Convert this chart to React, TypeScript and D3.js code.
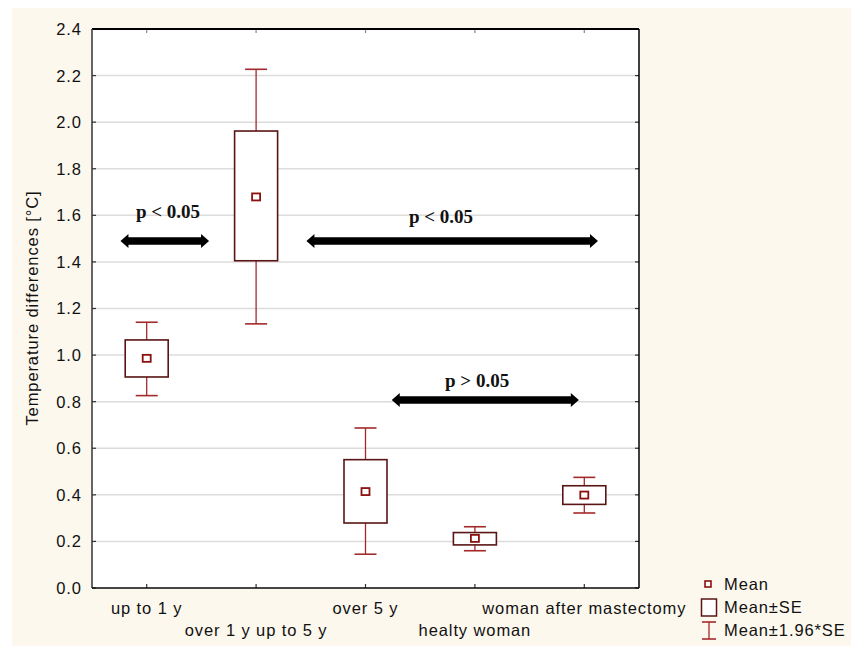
import React from "react";
import * as d3 from "d3";

const categories = ["up to 1 y", "over 1 y up to 5 y", "over 5 y", "healty woman", "woman after mastectomy"];
const means = [0.986, 1.679, 0.414, 0.213, 0.399];
const seLow = [0.906, 1.405, 0.279, 0.185, 0.359];
const seHigh = [1.065, 1.962, 0.551, 0.238, 0.439];
const ciLow = [0.826, 1.134, 0.145, 0.160, 0.322];
const ciHigh = [1.141, 2.227, 0.687, 0.263, 0.475];
const yTicks = [0, 0.2, 0.4, 0.6, 0.8, 1.0, 1.2, 1.4, 1.6, 1.8, 2.0, 2.2, 2.4];

// significance annotations: positions in category-index units and value units
const arrowFrom = [-0.24, 1.46, 2.24];
const arrowTo = [0.57, 4.125, 3.95];
const arrowValue = [1.49, 1.49, 0.807];
const annoText = ["p < 0.05", "p < 0.05", "p > 0.05"];
const annoTextPos = [0.195, 2.69, 3.02];
const annoTextValue = [1.589, 1.567, 0.863];

const legendLabels = ["Mean", "Mean±SE", "Mean±1.96*SE"];

const W = 851, H = 646;
const L = 92, R = 639, T = 29, B = 588;

const MEAN_C = "#8b1010";
const BOX_C = "#5a1414";
const WH_C = "#a32a2a";
const SANS = "'Liberation Sans', Arial, sans-serif";
const SERIF = "'Liberation Serif', 'Times New Roman', serif";
const FS = 16.5;
const LS = 0.9;

export default function App() {
  const x = d3.scalePoint<string>().domain(categories).range([L, R]).padding(0.5);
  const step = x.step();
  const xi = (i: number) => (x(categories[0]) as number) + i * step;
  const y = d3.scaleLinear().domain([0, 2.4]).range([B, T]);
  const boxW = 43;
  const capW = 22;

  const arrowPath = (x1: number, x2: number, yc: number) => {
    const bh = 3.8, hh = 7, hl = 8;
    return `M${x1},${yc} L${x1 + hl},${yc - hh} L${x1 + hl},${yc - bh} L${x2 - hl},${yc - bh} L${x2 - hl},${yc - hh} L${x2},${yc} L${x2 - hl},${yc + hh} L${x2 - hl},${yc + bh} L${x1 + hl},${yc + bh} L${x1 + hl},${yc + hh} Z`;
  };

  return (
    <svg width={W} height={H} style={{ position: "absolute", left: 0, top: 0 }}>
      <rect x={12} y={8} width={W - 12} height={H - 8} fill="#fdf8ee" />
      <rect x={L} y={T} width={R - L} height={B - T} fill="#ffffff" />
      {yTicks.map((t) => (
        <line key={"g" + t} x1={L} x2={R} y1={y(t)} y2={y(t)} stroke="#dcdcdc" strokeWidth={1.5} />
      ))}
      {/* ticks */}
      {yTicks.map((t) => (
        <g key={"t" + t}>
          <line x1={L} x2={L + 4} y1={y(t)} y2={y(t)} stroke="#333" strokeWidth={1.2} />
          <line x1={R - 4} x2={R} y1={y(t)} y2={y(t)} stroke="#333" strokeWidth={1.2} />
          <text x={81 + LS} y={y(t)} dy="0.36em" textAnchor="end" fontFamily={SANS} fontSize={FS} letterSpacing={LS} fill="#111">
            {d3.format(".1f")(t)}
          </text>
        </g>
      ))}
      {categories.map((c, i) => (
        <g key={"xt" + c}>
          <line x1={x(c)} x2={x(c)} y1={B} y2={B - 4} stroke="#333" strokeWidth={1.2} />
          <line x1={x(c)} x2={x(c)} y1={T} y2={T + 4} stroke="#888" strokeWidth={1.2} />
          <text x={x(c)} y={i % 2 === 0 ? 614 : 636} textAnchor="middle" fontFamily={SANS} fontSize={FS} letterSpacing={LS} fill="#111">
            {c}
          </text>
        </g>
      ))}
      {/* frame */}
      <line x1={L} x2={R} y1={T} y2={T} stroke="#000" strokeWidth={2} />
      <line x1={R} x2={R} y1={T} y2={B} stroke="#000" strokeWidth={1.5} />
      <line x1={L} x2={L} y1={T} y2={B} stroke="#333" strokeWidth={1.5} />
      <line x1={L} x2={R} y1={B} y2={B} stroke="#111" strokeWidth={1.5} />

      {/* whiskers and boxes */}
      {categories.map((c, i) => {
        const cx = x(c) as number;
        return (
          <g key={"b" + c}>
            <line x1={cx} x2={cx} y1={y(ciHigh[i])} y2={y(seHigh[i])} stroke={WH_C} strokeWidth={1.3} />
            <line x1={cx} x2={cx} y1={y(seLow[i])} y2={y(ciLow[i])} stroke={WH_C} strokeWidth={1.3} />
            <line x1={cx - capW / 2} x2={cx + capW / 2} y1={y(ciHigh[i])} y2={y(ciHigh[i])} stroke={WH_C} strokeWidth={1.6} />
            <line x1={cx - capW / 2} x2={cx + capW / 2} y1={y(ciLow[i])} y2={y(ciLow[i])} stroke={WH_C} strokeWidth={1.6} />
            <rect x={cx - boxW / 2} y={y(seHigh[i])} width={boxW} height={y(seLow[i]) - y(seHigh[i])} fill="#fff" stroke={BOX_C} strokeWidth={1.6} />
            <rect x={cx - 4} y={y(means[i]) - 3.5} width={8} height={7} fill="#fff" stroke={MEAN_C} strokeWidth={1.8} />
          </g>
        );
      })}

      {/* annotations */}
      {arrowFrom.map((a, i) => (
        <g key={"a" + i}>
          <path d={arrowPath(xi(a), xi(arrowTo[i]), y(arrowValue[i]))} fill="#000" />
          <text x={xi(annoTextPos[i])} y={y(annoTextValue[i])} textAnchor="middle" fontFamily={SERIF} fontWeight="bold" fontSize={19} fill="#111">
            {annoText[i]}
          </text>
        </g>
      ))}

      {/* y title */}
      <text transform={`translate(38,308) rotate(-90)`} textAnchor="middle" fontFamily={SANS} fontSize={FS} letterSpacing={LS} fill="#111">
        Temperature differences [°C]
      </text>

      {/* legend */}
      <g>
        <rect x={705} y={581} width={6} height={6} fill="#fff" stroke={MEAN_C} strokeWidth={1.6} />
        <text x={724} y={590} fontFamily={SANS} fontSize={FS} letterSpacing={LS} fill="#111">{legendLabels[0]}</text>
        <rect x={701.5} y={599} width={15} height={17} fill="#fff" stroke={BOX_C} strokeWidth={1.5} />
        <text x={724} y={613} fontFamily={SANS} fontSize={FS} letterSpacing={LS} fill="#111">{legendLabels[1]}</text>
        <line x1={702} x2={716} y1={622} y2={622} stroke={WH_C} strokeWidth={1.6} />
        <line x1={709} x2={709} y1={622} y2={639} stroke={WH_C} strokeWidth={1.3} />
        <line x1={702} x2={716} y1={639} y2={639} stroke={WH_C} strokeWidth={1.6} />
        <text x={724} y={636} fontFamily={SANS} fontSize={FS} letterSpacing={LS} fill="#111">{legendLabels[2]}</text>
      </g>
    </svg>
  );
}
